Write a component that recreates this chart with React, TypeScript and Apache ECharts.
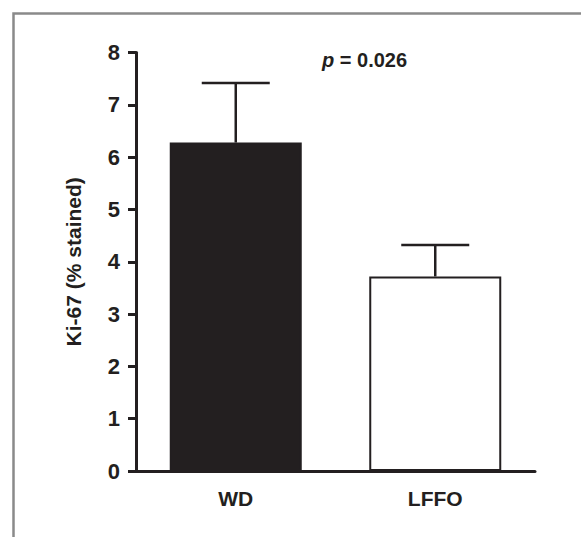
import React, { useEffect, useRef } from "react";
import * as echarts from "echarts";

const categories = ["WD", "LFFO"];
const means = [6.28, 3.72];
const errTops = [7.42, 4.32];
const yTicks = [0, 1, 2, 3, 4, 5, 6, 7, 8];
const barColors = ["#231f20", "#ffffff"];
const pText = "= 0.026";

export default function App() {
  const ref = useRef<HTMLDivElement>(null);
  useEffect(() => {
    if (!ref.current) return;
    const chart = echarts.init(ref.current, null, { renderer: "svg" });
    const ink = "#231f20";
    const font = "'Liberation Sans', Arial, Helvetica, sans-serif";
    chart.setOption({
      animation: false,
      backgroundColor: "#ffffff",
      grid: { left: 136, right: 46, top: 52.6, bottom: 66, containLabel: false },
      xAxis: {
        type: "category",
        data: categories,
        axisLine: { show: true, lineStyle: { color: ink, width: 3 } },
        axisTick: { show: false },
        axisLabel: { color: ink, fontSize: 21, fontWeight: "bold", fontFamily: font, margin: 17 },
        splitLine: { show: false },
      },
      yAxis: {
        type: "value",
        min: yTicks[0],
        max: yTicks[yTicks.length - 1],
        interval: 1,
        name: "Ki-67 (% stained)",
        nameLocation: "middle",
        nameGap: 52,
        nameTextStyle: { color: ink, fontSize: 21, fontWeight: "bold", fontFamily: font },
        axisLine: { show: true, lineStyle: { color: ink, width: 3 } },
        axisTick: { show: true, length: 8, lineStyle: { color: ink, width: 3 } },
        axisLabel: { color: ink, fontSize: 22, fontWeight: "bold", fontFamily: font, margin: 16 },
        splitLine: { show: false },
      },
      graphic: [
        {
          type: "rect",
          left: 11,
          top: 11,
          shape: { x: 0, y: 0, width: 700, height: 700 },
          style: { fill: "none", stroke: "#8a8a8a", lineWidth: 2.5 },
          silent: true,
          z: -1,
        },
        {
          type: "text",
          left: 322,
          top: 50,
          style: {
            text: "{i|p} {b|" + pText + "}",
            rich: {
              i: { fontSize: 20, fontWeight: "bold", fontStyle: "italic", fontFamily: font, fill: ink },
              b: { fontSize: 20, fontWeight: "bold", fontFamily: font, fill: ink },
            },
            fontSize: 20,
            fontWeight: "bold",
            fontFamily: font,
            fill: ink,
          },
        },
      ],
      series: [
        {
          type: "bar",
          data: means.map((v, i) => ({
            value: v,
            itemStyle: { color: barColors[i], borderColor: ink, borderWidth: 2 },
          })),
          barWidth: 132,
          z: 2,
        },
        {
          type: "custom",
          z: 3,
          data: means.map((m, i) => [i, m, errTops[i]]),
          renderItem: (params: any, api: any) => {
            const idx = api.value(0);
            const lo = api.coord([idx, api.value(1)]);
            const hi = api.coord([idx, api.value(2)]);
            const half = 34;
            const style = { stroke: ink, lineWidth: 2.5, fill: "none" };
            return {
              type: "group",
              children: [
                { type: "line", shape: { x1: lo[0], y1: lo[1], x2: hi[0], y2: hi[1] }, style },
                { type: "line", shape: { x1: hi[0] - half, y1: hi[1], x2: hi[0] + half, y2: hi[1] }, style },
              ],
            };
          },
        },
      ],
    });
    return () => chart.dispose();
  }, []);
  return (
    <div
      ref={ref}
      style={{ position: "fixed", left: 0, top: 0, width: 581, height: 537, background: "#fff" }}
    />
  );
}
